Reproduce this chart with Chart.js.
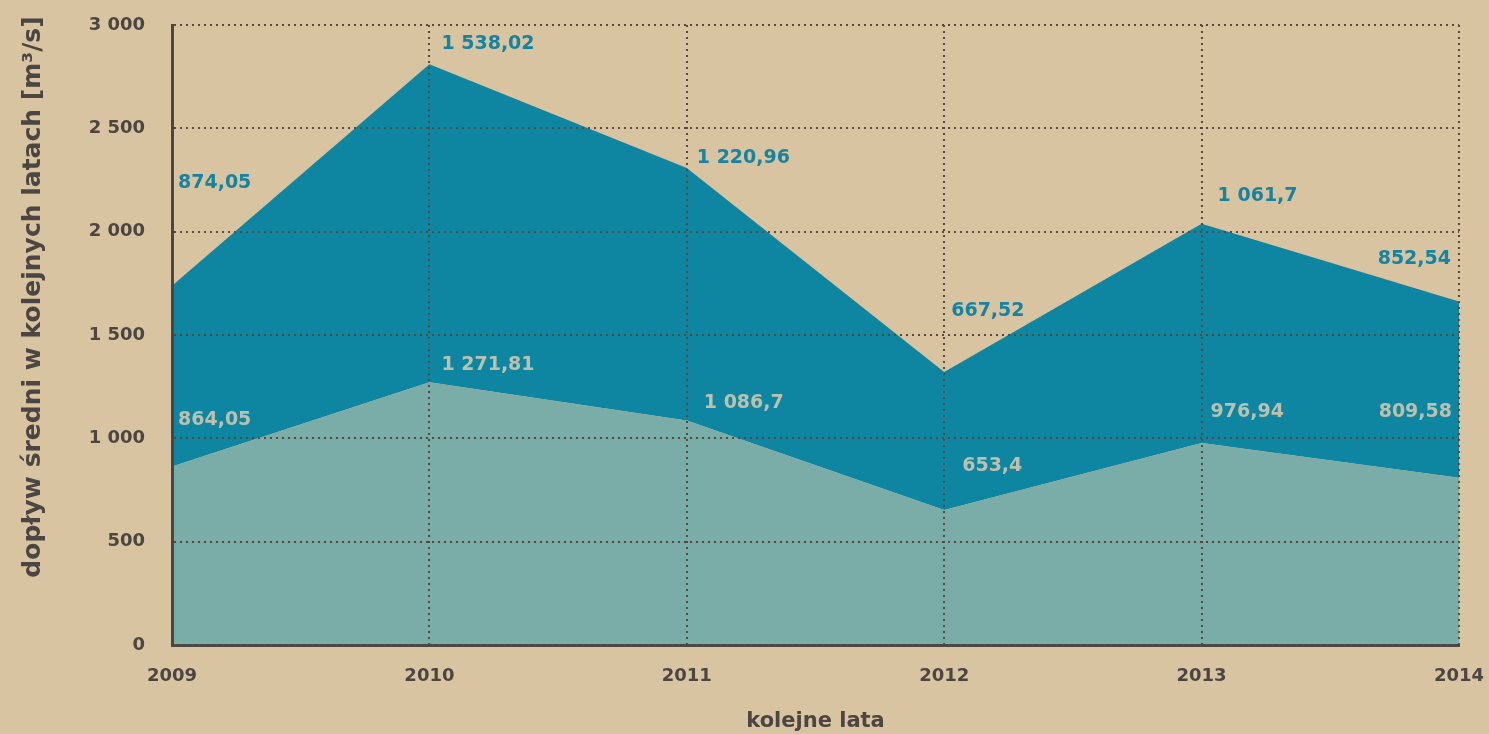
<!DOCTYPE html>
<html>
<head>
<meta charset="utf-8">
<script src="https://cdn.jsdelivr.net/npm/chart.js@4.4.0/dist/chart.umd.min.js"></script>
<style>
    html, body { margin: 0; padding: 0; background: #d9c4a1; }
    #wrap { width: 1489px; height: 734px; position: relative; }
</style>
</head>
<body>
<div id="wrap"><canvas id="wykres"></canvas></div>
<script>
// dane
const lata = ['2009', '2010', '2011', '2012', '2013', '2014'];
const dolnaSeria = [864.05, 1271.81, 1086.7, 653.4, 976.94, 809.58];
const gornaSeria = [874.05, 1538.02, 1220.96, 667.52, 1061.7, 852.54];
const etykietyY = ['0', '500', '1 000', '1 500', '2 000', '2 500', '3 000'];

// przesunięcia etykiet wartości [dx, dy] względem punktu
const przesunGorne = [[6, -103], [12, -20], [10, -10], [7, -61], [16, -28], [-8, -42]];
const przesunDolne = [[6, -46], [12, -17], [17, -17], [18, -44], [9, -31], [-7, -66]];

const kolorTekstu = '#4b4641';
const czcionka = '"DejaVu Sans", sans-serif';

function formatuj(v) {
    const [c, d] = String(v).split('.');
    const cz = c.replace(/\B(?=(\d{3})+(?!\d))/g, ' ');
    return d ? cz + ',' + d : cz;
}

const etykietyWartosci = {
    id: 'etykietyWartosci',
    afterDraw(chart) {
        const ctx = chart.ctx;
        ctx.save();
        ctx.font = 'bold 19px ' + czcionka;
        ctx.textBaseline = 'middle';
        const serie = [
            { idx: 0, dane: dolnaSeria, przes: przesunDolne, kolor: '#bcc0ae' },
            { idx: 1, dane: gornaSeria, przes: przesunGorne, kolor: '#1683a0' }
        ];
        serie.forEach(s => {
            const meta = chart.getDatasetMeta(s.idx);
            meta.data.forEach((pt, i) => {
                const [dx, dy] = s.przes[i];
                ctx.textAlign = i === lata.length - 1 ? 'right' : 'left';
                ctx.fillStyle = s.kolor;
                ctx.fillText(formatuj(s.dane[i]), pt.x + dx, pt.y + dy);
            });
        });
        // tytuł osi Y
        ctx.translate(33, 297);
        ctx.rotate(-Math.PI / 2);
        ctx.textAlign = 'center';
        ctx.fillStyle = kolorTekstu;
        ctx.font = 'bold 25px ' + czcionka;
        ctx.fillText('dopływ średni w kolejnych latach [m³/s]', 0, 0);
        ctx.restore();
    }
};

const siatka = {
    z: 1,
    color: '#574840',
    lineWidth: 2,
    drawTicks: false
};

const ramka = { display: true, z: 1, color: kolorTekstu, width: 3, dash: [2, 4] };

const dataObszar = {
    labels: lata,
    datasets: [
        {
            label: 'dolna',
            data: dolnaSeria,
            backgroundColor: '#7badA8',
            borderWidth: 0,
            pointRadius: 0,
            fill: 'origin',
            tension: 0
        },
        {
            label: 'górna',
            data: gornaSeria,
            backgroundColor: '#0f86a1',
            borderWidth: 0,
            pointRadius: 0,
            fill: '-1',
            tension: 0
        }
    ]
};

const configObszar = {
    type: 'line',
    data: dataObszar,
    options: {
        responsive: true,
        maintainAspectRatio: false,
        animation: false,
        layout: { padding: { left: 0, right: 30, top: 25, bottom: 0 } },
        plugins: {
            legend: { display: false },
            tooltip: { enabled: false }
        },
        scales: {
            x: {
                grid: siatka,
                border: ramka,
                ticks: {
                    color: kolorTekstu,
                    font: { family: czcionka, size: 18, weight: 'bold' },
                    padding: 21,
                    maxRotation: 0
                },
                title: {
                    display: true,
                    text: 'kolejne lata',
                    color: kolorTekstu,
                    font: { family: czcionka, size: 21, weight: 'bold' },
                    padding: 0
                },
                afterFit(scale) {
                    scale.height = 89;
                    scale.paddingLeft = 0;
                    scale.paddingRight = 0;
                }
            },
            y: {
                stacked: true,
                min: 0,
                max: 3000,
                grid: siatka,
                border: ramka,
                ticks: {
                    stepSize: 500,
                    color: kolorTekstu,
                    font: { family: czcionka, size: 18, weight: 'bold' },
                    padding: 27,
                    callback: (v, i) => etykietyY[i]
                },
                afterFit(scale) {
                    scale.width = 172;
                    scale.paddingTop = 0;
                    scale.paddingBottom = 0;
                }
            }
        }
    },
    plugins: [etykietyWartosci]
};

new Chart(document.getElementById('wykres'), configObszar);
</script>
</body>
</html>
